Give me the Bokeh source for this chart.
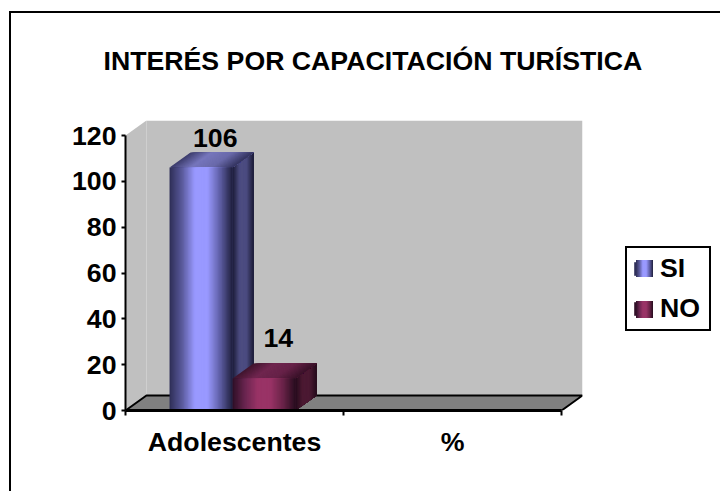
from bokeh.embed import file_html
from bokeh.resources import INLINE
from bokeh.plotting import figure
from bokeh.models import (Range1d, FixedTicker, Legend, LegendItem, ColumnDataSource, InlineStyleSheet)
from bokeh.models import Title
from bokeh.core.properties import value

# ---- data ----
categories = ["Adolescentes", "%"]
series_names = ["SI", "NO"]
si_values = [106, None]
no_values = [14, None]
y_ticks = [0, 20, 40, 60, 80, 100, 120]
title_text = "INTERÉS POR CAPACITACIÓN TURÍSTICA"

# ---- styles ----
FONT = "Liberation Sans"
FS = "26.7px"
BLUE_FRONT = ["#2e2e56", "#5a5a9c", "#9999ff", "#9999ff", "#5f5fa6", "#1f1f3c"]
BLUE_SIDE = ["#1c1c38", "#4c4c80", "#4c4c80", "#1c1c38"]
BLUE_TOP = ["#3c3c6c", "#7676bc", "#6a6aaa", "#343460"]
RED_FRONT = ["#2e0f26", "#6a2550", "#993366", "#993366", "#6a2348", "#260c1e"]
RED_SIDE = ["#260c1c", "#4c1a33", "#4c1a33", "#260c1c"]
RED_TOP = ["#40152e", "#70264f", "#662248", "#3a1229"]

BAR_W = 0.289
BAR_SHIFT = -0.009
DX, DY = 0.096, 6.55
N = 48


def mix(stops, t):
    t = max(0.0, min(1.0, t)) * (len(stops) - 1)
    i = min(int(t), len(stops) - 2)
    f = t - i
    a = [int(stops[i][k:k + 2], 16) for k in (1, 3, 5)]
    b = [int(stops[i + 1][k:k + 2], 16) for k in (1, 3, 5)]
    return "#%02x%02x%02x" % tuple(round(a[j] + (b[j] - a[j]) * f) for j in range(3))


# frame of the picture (left and top edges only) and gradient legend swatches
blue_css = ",".join(BLUE_FRONT)
red_css = ",".join(RED_FRONT)
css = InlineStyleSheet(css=f"""
:host::before {{content:''; position:absolute; left:9px; top:11px; right:0; bottom:0;
  border-left:2px solid #000; border-top:2px solid #000; pointer-events:none; z-index:5;}}
:host::after {{content:''; position:absolute; left:636px; top:260px; width:17px; height:58px; pointer-events:none; z-index:5;
  background: linear-gradient(90deg,{blue_css}) 0 0/17px 17px no-repeat,
              linear-gradient(90deg,{red_css}) 0 41px/17px 17px no-repeat;}}
""")

p = figure(width=720, height=491, output_backend="svg", toolbar_location=None,
           x_range=Range1d(0, 2 + DX), y_range=Range1d(0, 120 + DY),
           frame_width=457, frame_height=290,
           min_border_left=125, min_border_right=138, min_border_top=120, min_border_bottom=81,
           background_fill_color="white", border_fill_color="white", outline_line_color=None,
           stylesheets=[css])
p.grid.visible = False

# walls and floor
xmax = len(categories)
p.patch([0, DX, DX, 0], [0, DY, 120 + DY, 120], fill_color="#c0c0c0", line_color=None)
p.quad(left=[DX], right=[xmax + DX], bottom=[DY], top=[120 + DY], fill_color="#c0c0c0", line_color=None)
p.patch([0, DX, xmax + DX, xmax], [0, DY, DY, 0], fill_color="#808080", line_color="black", line_width=2)


def bar(center_offset, val, front, side, top):
    x0 = 0.5 + center_offset + BAR_SHIFT
    x1 = x0 + BAR_W
    lefts = [x0 + BAR_W * i / N for i in range(N)]
    cols = [mix(front, (i + 0.5) / N) for i in range(N)]
    xs_side, ys_side, c_side = [], [], []
    xs_top, ys_top, c_top = [], [], []
    for i in range(N):
        a = i / N
        # every strip runs on to the far end of its face, so the next one paints over it without gaps
        xs_side.append([x1 + a * DX, x1 + DX, x1 + DX, x1 + a * DX])
        ys_side.append([a * DY, DY, val + DY, val + a * DY])
        c_side.append(mix(side, (i + 0.5) / N))
        xs_top.append([lefts[i], x1, x1 + DX, lefts[i] + DX])
        ys_top.append([val, val, val + DY, val + DY])
        c_top.append(mix(top, (i + 0.5) / N))
    p.patches(xs_side, ys_side, fill_color=c_side, line_color=None)
    p.patches(xs_top, ys_top, fill_color=c_top, line_color=None)
    return p.quad(left=lefts, right=[x1] * N, bottom=[0] * N, top=[val] * N,
                  fill_color=cols, line_color=None)


r_si = bar(-BAR_W, si_values[0], BLUE_FRONT, BLUE_SIDE, BLUE_TOP)
r_no = bar(0.0, no_values[0], RED_FRONT, RED_SIDE, RED_TOP)

# data labels
lab = ColumnDataSource(dict(
    x=[0.5 - BAR_W / 2 + 0.056, 0.5 + BAR_W / 2 + 0.056],
    y=[si_values[0] + DY, no_values[0] + DY],
    t=[str(si_values[0]), str(no_values[0])],
    off=[-15, -25]))
p.text("x", "y", text="t", source=lab, text_align="center", text_baseline="alphabetic",
       text_font=value(FONT), text_font_style="bold", text_font_size=FS, text_color="black",
       y_offset="off")

# axes
xa = p.xaxis[0]
xa.ticker = FixedTicker(ticks=[i + 0.5 for i in range(len(categories))],
                        minor_ticks=list(range(len(categories) + 1)))
xa.major_label_overrides = {i + 0.5: c for i, c in enumerate(categories)}
xa.bounds = (0, len(categories))
xa.major_tick_line_color = None
xa.major_tick_in = 0
xa.major_tick_out = 4
xa.minor_tick_in = 0
xa.minor_tick_out = 5
xa.minor_tick_line_color = "black"
xa.minor_tick_line_width = 2
xa.axis_line_color = "black"
xa.axis_line_width = 3
xa.major_label_standoff = 11
xa.major_label_text_font = FONT
xa.major_label_text_font_style = "bold"
xa.major_label_text_font_size = FS
xa.major_label_text_color = "black"

ya = p.yaxis[0]
ya.ticker = FixedTicker(ticks=y_ticks)
ya.bounds = (0, 120)
ya.major_tick_in = 0
ya.major_tick_out = 4
ya.minor_tick_line_color = None
ya.major_tick_line_color = "black"
ya.major_tick_line_width = 2
ya.axis_line_color = "black"
ya.axis_line_width = 2
ya.major_label_standoff = 5
ya.major_label_text_font = FONT
ya.major_label_text_font_style = "bold"
ya.major_label_text_font_size = FS
ya.major_label_text_color = "black"

# title
p.title = Title(text=title_text, align="left", offset=-22, standoff=88, vertical_align="middle",
                text_font=FONT, text_font_style="bold", text_font_size=FS, text_color="black",
                text_line_height=1.0)

# legend
legend = Legend(items=[LegendItem(label=series_names[0], renderers=[r_si], index=0),
                       LegendItem(label=series_names[1], renderers=[r_no], index=0)],
                location=(43, 79), orientation="vertical", margin=0, padding=5, spacing=9,
                glyph_width=17, glyph_height=17, label_standoff=11, label_height=17, label_width=44,
                border_line_color="black", border_line_width=2, border_line_alpha=1,
                background_fill_color="white", background_fill_alpha=1,
                label_text_font=FONT, label_text_font_style="bold", label_text_font_size=FS,
                label_text_color="black")
p.add_layout(legend, "right")

open("out.html", "w").write(file_html(p, INLINE))
